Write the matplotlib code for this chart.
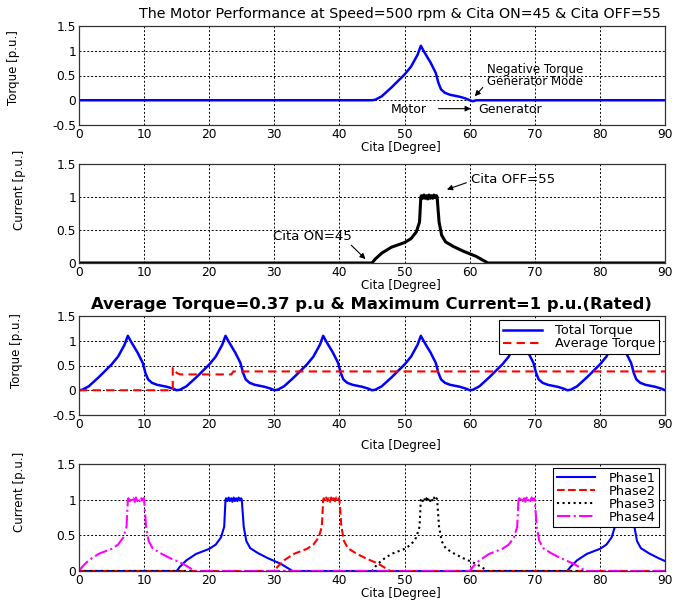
import numpy as np
import matplotlib
matplotlib.use('Agg')
import matplotlib.pyplot as plt

plt.rcParams['font.family'] = ['DejaVu Sans']

# one torque stroke (angle from switch-on, p.u.)
torque_ang = [0, 0.5, 1.5, 3.0, 5.0, 6.0, 7.0, 7.5, 8.0, 9.0, 9.8, 10.2, 10.6, 11.2, 12.0, 13.5, 14.5, 15.0]
torque_val = [0, 0.01, 0.08, 0.26, 0.52, 0.68, 0.92, 1.10, 0.98, 0.76, 0.55, 0.35, 0.22, 0.15, 0.11, 0.07, 0.03, 0.0]
tail_ang = [15.5, 16.0]
tail_val = [-0.02, 0.0]

# one current pulse (angle from switch-on, p.u.)
rise_ang = [0, 0.5, 1.5, 3.0, 5.0, 6.0, 6.8, 7.3, 7.5]
rise_val = [0, 0.06, 0.15, 0.24, 0.31, 0.37, 0.47, 0.62, 1.0]
chop_val = [1.02, 0.98, 1.03, 0.98, 1.02, 0.97, 1.03, 0.98, 1.02, 0.98, 1.03, 0.99, 1.02]
fall_ang = [10.0, 10.3, 10.7, 11.3, 12.5, 14.0, 16.0, 17.8]
fall_val = [1.0, 0.62, 0.42, 0.32, 0.25, 0.18, 0.10, 0.0]

theta_on = 45
stroke_starts = [0, 15, 30, 45, 60, 75]

# average torque
avg_ang = [0, 14.4, 14.4, 14.7, 15.0, 15.5, 23.4, 23.7, 90]
avg_val = [0, 0, 0.46, 0.42, 0.35, 0.32, 0.32, 0.38, 0.38]

# phase switch-on angles
phase_names = ['Phase1', 'Phase2', 'Phase3', 'Phase4']
phase_starts = [[15, 75], [30], [45], [0, 60]]
phase_colors = ['#0000ff', '#ff0000', 'k', '#ff00ff']
phase_styles = ['-', '--', ':', '-.']

xticks = [0, 10, 20, 30, 40, 50, 60, 70, 80, 90]
yticks_t = [-0.5, 0, 0.5, 1, 1.5]
ylabels_t = ['-0.5', '0', '0.5', '1', '1.5']
yticks_c = [0, 0.5, 1, 1.5]
ylabels_c = ['0', '0.5', '1', '1.5']

pulse_ang = np.concatenate([rise_ang, np.linspace(7.6, 9.9, len(chop_val)), fall_ang])
pulse_val = np.concatenate([rise_val, chop_val, fall_val])


def phase_current(starts):
    xs, ys = [0.0], [0.0]
    for s in starts:
        xs += list(s + pulse_ang)
        ys += list(pulse_val)
    xs.append(95.0)
    ys.append(0.0)
    return xs, ys


def style_axes(ax, yt, yl, ymin):
    ax.set_xlim(0, 90)
    ax.set_ylim(ymin, 1.5)
    ax.set_xticks(xticks)
    ax.set_yticks(yt)
    ax.set_yticklabels(yl)
    ax.grid(True, color='k', linestyle=(0, (2, 2)), linewidth=0.7)
    ax.tick_params(direction='in', length=0, labelsize=8.8, pad=2)
    for sp in ax.spines.values():
        sp.set_color('#333333')
        sp.set_linewidth(0.9)


ylab_font = dict(family=['Liberation Sans Narrow', 'DejaVu Sans'], fontsize=8.5)
ann = dict(arrowstyle='-|>', color='k', lw=0.8, mutation_scale=8)
xl = 'Cita [Degree]'
leg_kw = dict(loc='upper right', fontsize=9.3, fancybox=False, edgecolor='k', framealpha=1,
              borderpad=0.3, handlelength=3.0, handletextpad=1.0, borderaxespad=0)

fig = plt.figure(figsize=(6.99, 6.0), dpi=100)
L, W = 79 / 699, 586 / 699

# panel 1: single phase torque
ax1 = fig.add_axes([L, 1 - 125 / 600, W, 99 / 600])
x1 = [0, theta_on] + [theta_on + a for a in torque_ang + tail_ang] + [90]
y1 = [0, 0] + torque_val + tail_val + [0]
ax1.plot(x1, y1, color='#0000ff', lw=1.8)
style_axes(ax1, yticks_t, ylabels_t, -0.5)
ax1.set_ylabel('Torque [p.u.]', **ylab_font)
ax1.yaxis.set_label_coords(-0.1, 0.58)
fig.text(400 / 699, 1 - 14 / 600, 'The Motor Performance at Speed=500 rpm & Cita ON=45 & Cita OFF=55',
         ha='center', va='center', fontsize=10.3)
fig.text(401 / 699, 1 - 148 / 600, xl, ha='center', va='center', fontsize=8.5)
ax1.text(62.7, 0.5, 'Negative Torque\nGenerator Mode', fontsize=8.5, va='center',
         linespacing=0.95)
ax1.annotate('', xy=(60.5, 0.04), xytext=(62.3, 0.3), arrowprops=ann)
ax1.text(47.9, -0.18, 'Motor', fontsize=9, va='center')
ax1.text(61.3, -0.18, 'Generator', fontsize=9, va='center')
ax1.annotate('', xy=(60.6, -0.17), xytext=(54.8, -0.17), arrowprops=ann)

# panel 2: single phase current
ax2 = fig.add_axes([L, 1 - 263 / 600, W, 99 / 600])
x2 = [0, theta_on] + list(theta_on + pulse_ang) + [90]
y2 = [0, 0] + list(pulse_val) + [0]
ax2.plot(x2, y2, color='k', lw=2.2)
style_axes(ax2, yticks_c, ylabels_c, 0)
ax2.set_ylabel('Current [p.u.]', **ylab_font)
ax2.yaxis.set_label_coords(-0.09, 0.74)
fig.text(401 / 699, 1 - 286 / 600, xl, ha='center', va='center', fontsize=8.5)
ax2.text(60.2, 1.26, 'Cita OFF=55', fontsize=9.5, va='center')
ax2.annotate('', xy=(56.1, 1.1), xytext=(59.9, 1.23), arrowprops=ann)
ax2.text(29.8, 0.4, 'Cita ON=45', fontsize=9.5, va='center')
ax2.annotate('', xy=(44.3, 0.03), xytext=(41.5, 0.3), arrowprops=ann)

# panel 3: total torque and average
ax3 = fig.add_axes([L, 1 - 415 / 600, W, 99 / 600])
x3, y3 = [], []
for s in stroke_starts:
    x3 += [s + a for a in torque_ang]
    y3 += torque_val
ax3.plot(x3, y3, color='#0000ff', lw=1.8, label='Total Torque')
ax3.plot(avg_ang, avg_val, color='#ff0000', lw=1.5, dashes=(4, 2.5), label='Average Torque')
style_axes(ax3, yticks_t, ylabels_t, -0.5)
ax3.set_ylabel('Torque [p.u.]', **ylab_font)
ax3.yaxis.set_label_coords(-0.095, 0.65)
fig.text(371 / 699, 1 - 304 / 600, 'Average Torque=0.37 p.u & Maximum Current=1 p.u.(Rated)',
         ha='center', va='center', fontsize=11.8, fontweight='bold')
fig.text(401 / 699, 1 - 446 / 600, xl, ha='center', va='center', fontsize=8.5)
leg3 = ax3.legend(bbox_to_anchor=(0.99, 0.955), labelspacing=0.0, **leg_kw)
leg3.get_frame().set_linewidth(0.8)

# panel 4: phase currents
ax4 = fig.add_axes([L, 1 - 571 / 600, W, 107 / 600])
for name, starts, c, ls in zip(phase_names, phase_starts, phase_colors, phase_styles):
    xs, ys = phase_current(starts)
    ax4.plot(xs, ys, color=c, linestyle=ls, lw=1.5, label=name)
style_axes(ax4, yticks_c, ylabels_c, 0)
ax4.set_ylabel('Current [p.u.]', **ylab_font)
ax4.yaxis.set_label_coords(-0.09, 0.74)
fig.text(401 / 699, 1 - 594 / 600, xl, ha='center', va='center', fontsize=8.5)
leg4 = ax4.legend(bbox_to_anchor=(0.99, 0.965), labelspacing=0.0, **leg_kw)
leg4.get_frame().set_linewidth(0.8)

fig.savefig('out.png', dpi=100)
